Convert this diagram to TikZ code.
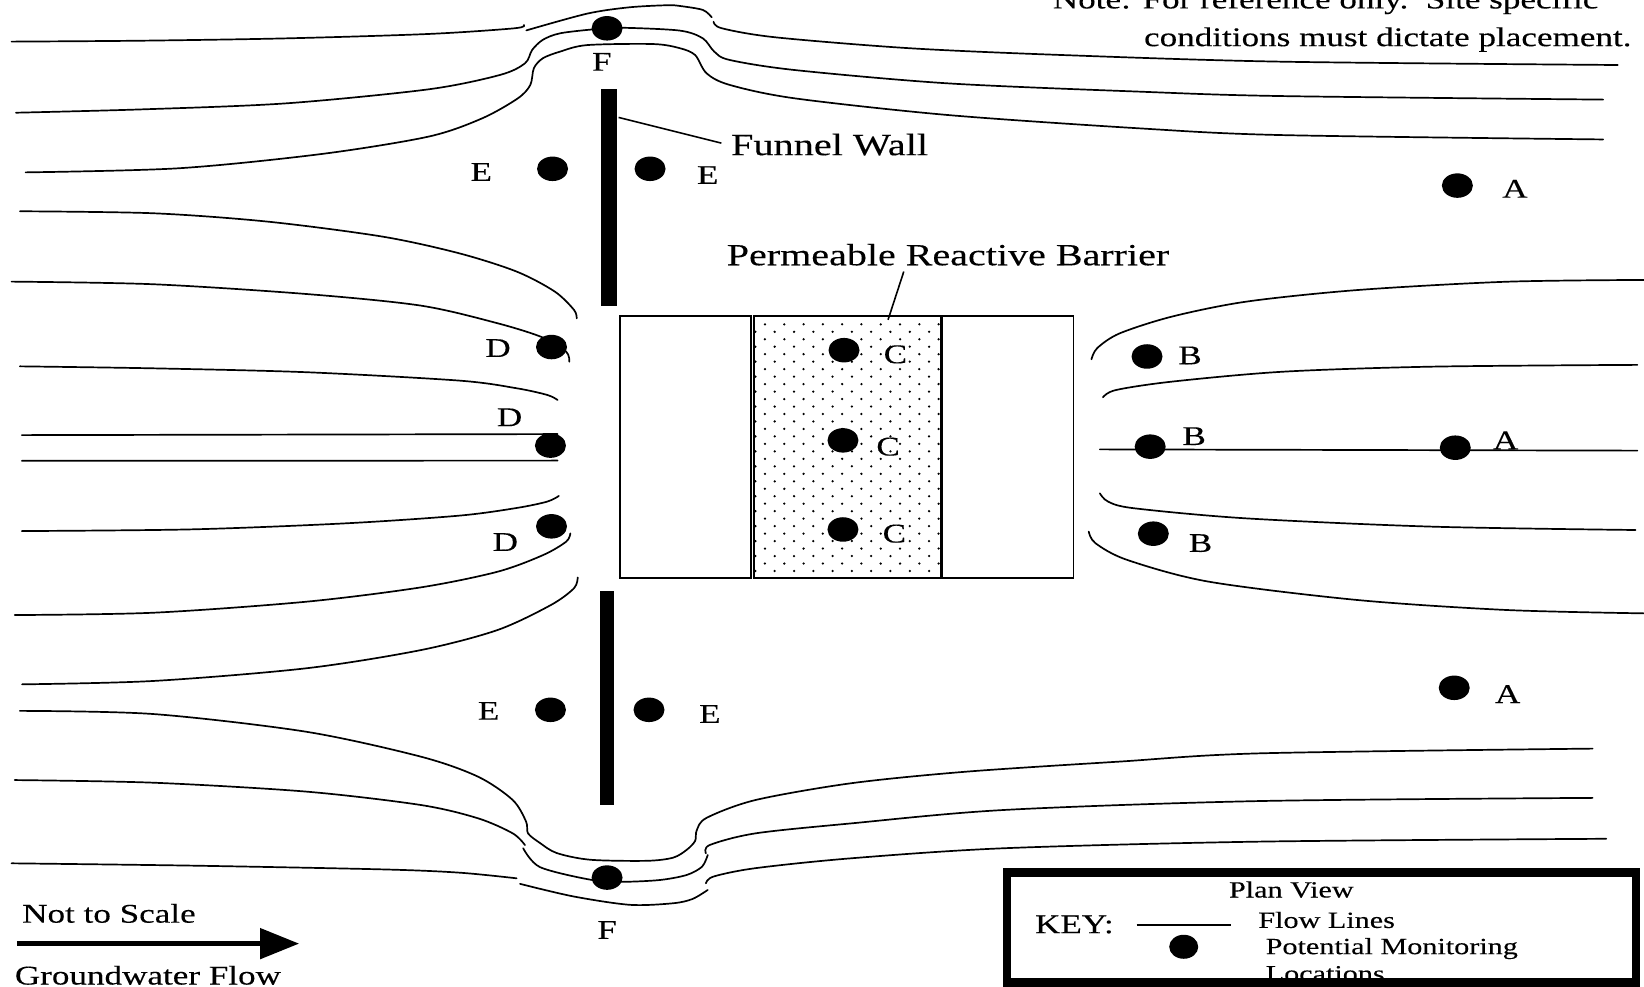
\documentclass[tikz,border=0pt]{standalone}
\usepackage{fontspec}
\usetikzlibrary{shapes.geometric}
\newfontfamily\labfont[FakeStretch=1.3,FakeBold=0.25]{Liberation Serif}
\newcommand{\labbig}{\labfont\fontsize{27}{30}\selectfont}
\newcommand{\labbar}{\labfont\fontsize{30.8}{33}\selectfont}
\newcommand{\labwall}{\labfont\fontsize{31}{33}\selectfont}
\newcommand{\labkey}{\labfont\fontsize{23.2}{26}\selectfont}
\tikzset{
  flow/.style={line width=1.7pt,line cap=round,line join=round},
  wall/.style={fill=black,draw=none},
  cell/.style={draw=black,line width=1.7pt,fill=white},
  well/.style={ellipse,fill=black,draw=none,minimum width=31pt,minimum height=24.5pt,inner sep=0pt},
  lab/.style={font=\labbig,inner sep=0pt},
  txt/.style={font=\labbig,inner sep=0pt,anchor=base west},
  keytxt/.style={font=\labkey,inner sep=0pt,anchor=base west},
  leader/.style={line width=1.6pt},
}
\newcommand{\flowline}[1]{\draw[flow] plot[smooth,tension=0.5] coordinates {#1};}
\begin{document}
\begin{tikzpicture}[x=1.04847pt,y=-1.04847pt]
\useasboundingbox (0,0) rectangle (1568,941);
\clip (0,0) rectangle (1568,941);
% barrier
\draw[cell] (591,301.5) rectangle (716.3,551.5);
\draw[cell] (899,301.5) rectangle (1024,551.5);
\draw[cell] (719.3,301.5) rectangle (897.5,551.5);
\foreach \r in {0,...,33}{
  \pgfmathsetmacro{\yy}{309.3+\r*7.13}
  \pgfmathsetmacro{\xs}{ifthenelse(mod(\r,2)==0,729.6,720.5)}
  \foreach \k in {0,...,9}{
    \pgfmathsetmacro{\xx}{\xs+18.4*\k}
    \fill (\xx,\yy) circle[radius=1.2];
  }
}
\draw[line width=3pt] (897.5,301.5) -- (897.5,551.5);
% top flow lines
\flowline{(11,39.7) (136,38.8) (272.5,36.6) (408.7,32.4) (490.5,27) (499.7,23.8)}
\flowline{(502,29) (560,13) (600,7) (636,5) (648.5,5.7) (670.4,9.5) (678.8,16.5)}
\flowline{(680.6,20.7) (688.6,27) (739.7,35.6) (867.5,46) (1013.5,52.5) (1220.8,58.8) (1543,62)}
\flowline{(15.3,107.5) (136,104.3) (272.5,98.6) (408.7,85.2) (476.8,71.5) (500.7,60.4) (507.5,47.7) (517.7,38) (534,31.8) (566,28) (594,26.5) (648.5,29.2) (670.4,36.6) (681.3,49.3) (696,57.2) (758,66.8) (904,79.5) (1086.5,87.4) (1220.8,91.6) (1529,95)}
\flowline{(24.5,164.4) (170.3,160.5) (306.5,146.9) (408.7,130.3) (459.8,112.9) (493.9,93.8) (505.8,81) (509.2,65) (517.7,55.6) (534,49.3) (560,43) (623,42) (648.5,46) (663,52.5) (674,70) (696,81) (758,93.8) (904,109.7) (1086.5,122.4) (1220.8,128.8) (1529,133)}
% left flow lines
\flowline{(19,201.5) (146,203.4) (255.5,211.4) (365,225.7) (438,241.6) (492.7,259) (529,278) (547.5,295.6) (550,303.6)}
\flowline{(11,268.6) (146,271.1) (292,280.4) (401.5,291.5) (474.5,308.3) (518,322) (540,335.4) (543,345)}
\flowline{(19,349.4) (146,351.3) (292,355) (438,363) (492.7,370.3) (522,376.7) (531.8,381.5)}
\draw[flow] (20.8,415) -- (531.8,414);
\draw[flow] (20.8,439.5) -- (531.8,439.3);
\flowline{(20.8,506.5) (182.5,504.9) (328.5,499.2) (438,491.8) (492.7,484.5) (522,478.4) (533,473)}
\flowline{(14,586.6) (146,584.4) (292,573.9) (401.5,560.2) (474.5,545.3) (518,529.4) (540,516.6) (544,508.7)}
\flowline{(21,652.7) (146,649.5) (292,637.4) (401.5,620) (474.5,600.9) (525.5,577) (547.5,561) (551,550.7)}
% bottom flow lines
\flowline{(19,678) (146,681) (292,697.9) (401.5,721.7) (456,740.8) (489,763) (501.8,783.7) (503.6,794.8) (515,804) (531,813.6) (563,820) (617,821) (642,818) (655,810.5) (663,802) (664.5,792) (674,780) (720.7,763) (812,747) (921.5,736) (1067.5,726.4) (1201.8,718.5) (1519,714)}
\flowline{(14,744) (146,746.5) (292,755) (401.5,767.8) (456,780.5) (489,794.8) (500.7,806)}
\flowline{(499,809) (515,827) (563,839) (594,841) (629.5,839.3) (655,834.5) (669.6,826.6) (675,815.5)}
\flowline{(673.3,813.9) (677,805.9) (720.7,794.8) (812,785.3) (958,772.5) (1201.8,764) (1519,761)}
\flowline{(11,823.4) (182.5,825.6) (365,829.2) (438,832.3) (492.7,837.7)}
\flowline{(496,843) (547,855) (601,863) (642,861.5) (660.5,857.4) (675,848.8)}
\flowline{(673.3,842.5) (680.6,836) (720.7,828) (812,818.6) (958,809) (1201.8,802.7) (1532,800)}
% right flow lines
\flowline{(1041,342.7) (1046.5,332) (1067.8,318) (1117.6,302) (1188.6,287.7) (1295,276.6) (1437,268.7) (1568,267)}
\flowline{(1051.9,379) (1064.3,372) (1117.6,364) (1224,354.5) (1366,349.7) (1561.6,348)}
\draw[flow] (1049,428.6) -- (1561.6,429.8);
\flowline{(1049,470.5) (1057,478.5) (1082,484.8) (1188.6,494.4) (1366,502.3) (1559.8,505.5)}
\flowline{(1038.4,507) (1044.7,518) (1075,534) (1153,554.8) (1295,572.3) (1437,581.8) (1568,585)}
% funnel walls
\fill[wall] (573,85) rectangle (588,292);
\fill[wall] (572,564) rectangle (586,768);
% wells
\node[well] (wF1) at (579,27) {};
\node[well] (wE1) at (527,161) {};
\node[well] (wE2) at (620,161) {};
\node[well] (wA1) at (1390,177) {};
\node[well] (wD1) at (526,331) {};
\node[well] (wC1) at (805,334) {};
\node[well] (wB1) at (1094,340) {};
\node[well] (wD2) at (525,425) {};
\node[well] (wC2) at (804,420) {};
\node[well] (wB2) at (1097,426) {};
\node[well] (wA2) at (1388,427) {};
\node[well] (wD3) at (526,502) {};
\node[well] (wC3) at (804,505) {};
\node[well] (wB3) at (1100,509) {};
\node[well] (wE3) at (525,677) {};
\node[well] (wE4) at (619,677) {};
\node[well] (wA3) at (1387,656) {};
\node[well] (wF2) at (579,837) {};
% well labels
\node[lab] (lF1) at (574,59) {F};
\node[lab] (lE1) at (459,164) {E};
\node[lab] (lE2) at (675,167) {E};
\node[lab] (lA1) at (1445,180) {A};
\node[lab] (lD1) at (475,332) {D};
\node[lab] (lC1) at (854,338) {C};
\node[lab] (lB1) at (1135,339) {B};
\node[lab] (lD2) at (486,398) {D};
\node[lab] (lC2) at (847,426) {C};
\node[lab] (lB2) at (1139,416) {B};
\node[lab] (lA2) at (1436,420) {A};
\node[lab] (lD3) at (482,517) {D};
\node[lab] (lC3) at (853,509) {C};
\node[lab] (lB3) at (1145,518) {B};
\node[lab] (lE3) at (466,678) {E};
\node[lab] (lE4) at (677,681) {E};
\node[lab] (lA3) at (1438,662) {A};
\node[lab] (lF2) at (579,887) {F};
% annotations
\node[txt,font=\labwall] (funnel) at (697,148) {Funnel Wall};
\coordinate (funnelTip) at (590,112);
\coordinate (funnelEnd) at (688,136.5);
\draw[leader] (funnelTip) -- (funnelEnd);
\node[txt,font=\labbar] (prb) at (693,253) {Permeable Reactive Barrier};
\coordinate (prbTop) at (862,259);
\coordinate (prbEnd) at (847,305);
\draw[leader] (prbTop) -- (prbEnd);
\node[txt] (note1) at (1004,8) {Note: For reference only.\ \ Site specific};
\node[txt] (note2) at (1091,44) {conditions must dictate placement.};
% scale and flow
\node[txt] (scale) at (21,880) {Not to Scale};
\node[txt] (gw) at (14,939) {Groundwater Flow};
\coordinate (arS) at (16,900);
\coordinate (arB) at (248,900);
\draw[line width=5.5pt] (arS) -- (arB);
\fill (248,885) -- (285,900) -- (248,915) -- cycle;
% key
\node[keytxt] (kPlan) at (1172,856) {Plan View};
\node[txt] (kKey) at (987,890) {KEY:};
\coordinate (kL1) at (1084,882);
\coordinate (kL2) at (1174,882);
\draw[flow,line cap=butt] (kL1) -- (kL2);
\node[keytxt] (kFlow) at (1200,885) {Flow Lines};
\node[well,minimum width=29pt,minimum height=24pt] (kDot) at (1129,903) {};
\node[keytxt] (kPot) at (1207,910) {Potential Monitoring};
\node[keytxt] (kLoc) at (1207,936) {Locations};
\draw[black,line width=8.5pt] (960.5,832) rectangle (1560.5,937);
\end{tikzpicture}
\end{document}
